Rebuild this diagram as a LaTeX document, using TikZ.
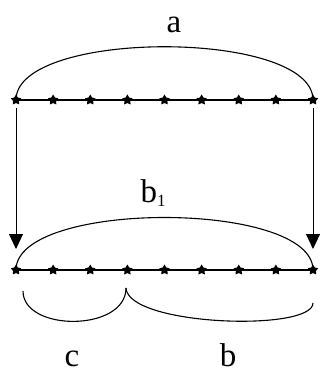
\documentclass[tikz,border=0pt]{standalone}
\usepackage{fontspec}
\setmainfont{Liberation Serif}
\usetikzlibrary{shapes.geometric,arrows.meta}
\begin{document}
\begin{tikzpicture}[x=1pt,y=-1pt,
  pt/.style={star,star points=5,star point ratio=1.8,fill=black,draw=none,minimum size=11pt,inner sep=0pt},
  lbl/.style={inner sep=0pt,anchor=base,font=\fontsize{33}{36}\selectfont},
  seg/.style={line width=1.6pt},
  arc/.style={line width=1.1pt},
  arr/.style={line width=1pt,-{Triangle[length=15pt,width=14pt]}}]
\useasboundingbox (0,0) rectangle (322,374);
% rows of points
\foreach \i in {0,...,8} {
  \node[pt] (t\i) at ({16+\i*37.125},100) {};
  \node[pt] (b\i) at ({16+\i*37.125},270) {};
}
\draw[seg] (t0.center) -- (t8.center);
\draw[seg] (b0.center) -- (b8.center);
% arc a
\draw[arc] (t0.center) .. controls (16,29) and (313,29) .. (t8.center);
\node[lbl] (la) at (174,33) {a};
% arrows
\coordinate (al) at (16,249);
\coordinate (ar) at (313,249);
\draw[arr] ([yshift=-8pt]t0.center) -- (al);
\draw[arr] ([yshift=-8pt]t8.center) -- (ar);
% arc b1
\draw[arc] (b0.center) .. controls (16,200) and (313,200) .. (b8.center);
\node[lbl] (lb1) at (153,202) {b\raisebox{-4pt}{\fontsize{17}{17}\selectfont 1}};
% lower braces
\coordinate (cl) at (23,291);
\coordinate (cusp) at (126,288);
\coordinate (br) at (313,303);
\draw[arc] (cl) .. controls (23,332) and (126,332) .. (cusp);
\draw[arc] (cusp) .. controls (128,326) and (313,332) .. (br);
\node[lbl] (lc) at (72,366) {c};
\node[lbl] (lb) at (228,366) {b};
\end{tikzpicture}
\end{document}
